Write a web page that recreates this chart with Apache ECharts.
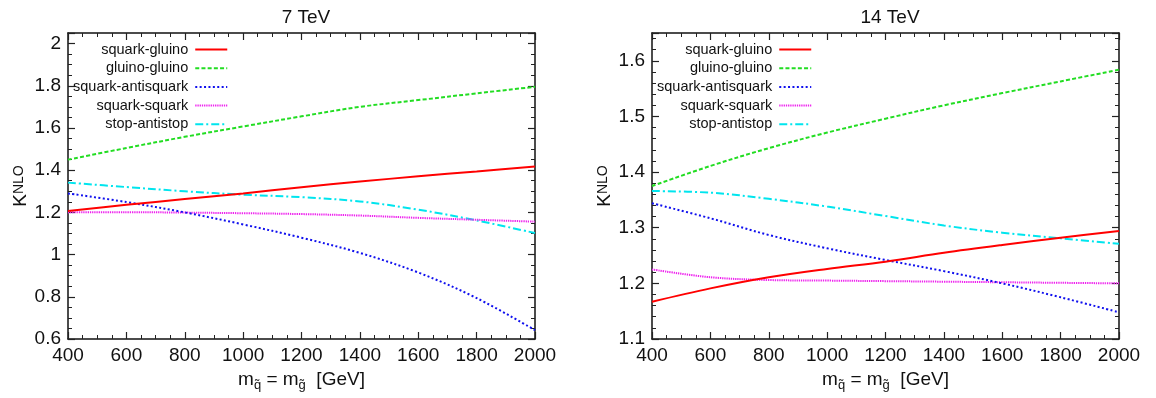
<!DOCTYPE html>
<html><head><meta charset="utf-8">
<script src="https://cdn.jsdelivr.net/npm/echarts@6/dist/echarts.min.js"></script>
<style>html,body{margin:0;padding:0;background:#fff}#c{width:1156px;height:398px}</style>
</head><body><div id="c"></div>
<script>
// x values (GeV)
const mass = [400, 600, 800, 1000, 1200, 1400, 1600, 1800, 2000];
const names = ['squark-gluino', 'gluino-gluino', 'squark-antisquark', 'squark-squark', 'stop-antistop'];
const titles = ['7 TeV', '14 TeV'];
// 7 TeV
const sg7 = [1.206, 1.236, 1.263, 1.290, 1.319, 1.346, 1.371, 1.394, 1.417];
const gg7 = [1.450, 1.505, 1.558, 1.607, 1.655, 1.700, 1.732, 1.764, 1.795];
const ssb7 = [1.290, 1.249, 1.200, 1.143, 1.080, 1.008, 0.915, 0.794, 0.642];
const ss7 = [1.200, 1.201, 1.199, 1.196, 1.192, 1.185, 1.174, 1.165, 1.156];
const tt7 = [1.341, 1.320, 1.300, 1.284, 1.272, 1.252, 1.213, 1.162, 1.102];
// 14 TeV
const sg14 = [1.167, 1.191, 1.211, 1.226, 1.239, 1.255, 1.269, 1.282, 1.294];
const gg14 = [1.375, 1.411, 1.443, 1.471, 1.496, 1.520, 1.542, 1.563, 1.584];
const ssb14 = [1.344, 1.317, 1.287, 1.263, 1.242, 1.222, 1.200, 1.175, 1.148];
const ss14 = [1.225, 1.211, 1.206, 1.205, 1.204, 1.203, 1.202, 1.201, 1.200];
const tt14 = [1.366, 1.363, 1.352, 1.338, 1.321, 1.304, 1.291, 1.281, 1.271];

const FONT = 'Liberation Sans, Arial, sans-serif';
const colors = ['#ff0000', '#22dd22', '#1010ee', '#ee22ee', '#00e5ee'];
const dashes = ['solid', [4, 2.2], [2, 2.4], [1.3, 0.9], [8, 3, 2, 3]];
const sets = [[sg7, gg7, ssb7, ss7, tt7], [sg14, gg14, ssb14, ss14, tt14]];
const yRange = [{min: 0.6, max: 2.05, interval: 0.2, minor: 4}, {min: 1.1, max: 1.65, interval: 0.1, minor: 5}];
const grids = [{left: 68, right: 621, top: 33, bottom: 59}, {left: 652, right: 37, top: 33, bottom: 59}];

function pairs(arr) { return mass.map((m, i) => [m, arr[i]]); }

const xAxes = [], yAxes = [], series = [], legends = [], tit = [];
grids.forEach((g, gi) => {
  const baseLine = {show: true, onZero: false, lineStyle: {color: '#111', width: 1.5}};
  const tick = {inside: true, length: 7, lineStyle: {color: '#222', width: 1.2}};
  xAxes.push({
    type: 'value', gridIndex: gi, min: 400, max: 2000, interval: 200,
    axisLine: baseLine, axisTick: tick,
    minorTick: {show: true, splitNumber: 4, length: 4, lineStyle: {color: '#222', width: 1}},
    splitLine: {show: false},
    axisLabel: {fontSize: 19, color: '#111', fontFamily: FONT, margin: 7, formatter: v => String(v)},
    name: '{m|m}{s|q\u0303}{m| = m}{s|g\u0303}{m|  [GeV]}',
    nameLocation: 'middle', nameGap: 30,
    nameTextStyle: {
      rich: {
        m: {fontSize: 19, fontFamily: FONT, color: '#111', lineHeight: 26, verticalAlign: 'top'},
        s: {fontSize: 13, fontFamily: FONT, color: '#111', lineHeight: 26, verticalAlign: 'top', padding: [9, 0, 0, 0]}
      }
    }
  });
  xAxes.push({
    type: 'value', gridIndex: gi, position: 'top', min: 400, max: 2000, interval: 200,
    axisLine: baseLine, axisTick: tick,
    minorTick: {show: true, splitNumber: 4, length: 4, lineStyle: {color: '#222', width: 1}},
    splitLine: {show: false}, axisLabel: {show: false}
  });
  const yr = yRange[gi];
  yAxes.push({
    type: 'value', gridIndex: gi, min: yr.min, max: yr.max, interval: yr.interval,
    axisLine: baseLine, axisTick: tick,
    minorTick: {show: true, splitNumber: yr.minor, length: 4, lineStyle: {color: '#222', width: 1}},
    splitLine: {show: false},
    axisLabel: {fontSize: 19, color: '#111', fontFamily: FONT, margin: 7, showMaxLabel: false,
      formatter: v => String(+v.toFixed(2))},
    name: '{k|K}{s|NLO}', nameLocation: 'middle', nameRotate: 90, nameGap: 34,
    nameTextStyle: {
      rich: {
        k: {fontSize: 19, fontFamily: FONT, color: '#111', lineHeight: 22, verticalAlign: 'middle'},
        s: {fontSize: 14, fontFamily: FONT, color: '#111', lineHeight: 14, verticalAlign: 'middle', padding: [0, 0, 5, 0]}
      }
    }
  });
  yAxes.push({
    type: 'value', gridIndex: gi, position: 'right', min: yr.min, max: yr.max, interval: yr.interval,
    axisLine: baseLine, axisTick: tick,
    minorTick: {show: true, splitNumber: yr.minor, length: 4, lineStyle: {color: '#222', width: 1}},
    splitLine: {show: false}, axisLabel: {show: false}
  });
  sets[gi].forEach((arr, si) => {
    series.push({
      type: 'line', name: names[si], xAxisIndex: gi * 2, yAxisIndex: gi * 2,
      data: pairs(arr), smooth: 0.35, symbol: 'none', showSymbol: false, z: 10 - si,
      lineStyle: {color: colors[si], width: 2, type: dashes[si]},
      itemStyle: {color: colors[si]}
    });
  });
  legends.push({
    data: names, orient: 'vertical', align: 'right',
    left: gi === 0 ? 68 : 652, top: 37,
    itemWidth: 32, itemHeight: 14, itemGap: 3.7,
    itemStyle: {opacity: 0},
    textStyle: {fontSize: 14.5, fontFamily: FONT, color: '#111', width: 118, align: 'right', padding: [0, 2, 0, 0]},
    selectedMode: false
  });
  tit.push({
    text: titles[gi], left: gi === 0 ? 301 : 885, top: 3, textAlign: 'center',
    textStyle: {fontSize: 19, fontWeight: 'normal', fontFamily: FONT, color: '#111'}
  });
});

const chart = echarts.init(document.getElementById('c'), null, {renderer: 'canvas'});
chart.setOption({
  backgroundColor: '#fff',
  animation: false,
  title: tit,
  grid: grids,
  xAxis: xAxes,
  yAxis: yAxes,
  legend: legends,
  series: series
});
</script></body></html>
